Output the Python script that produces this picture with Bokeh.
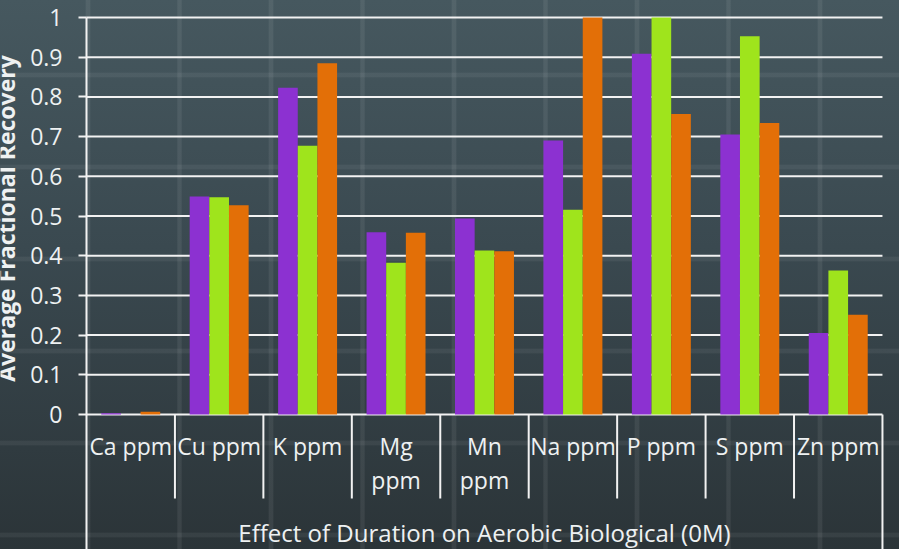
import math

from bokeh.plotting import figure
from bokeh.models import (ColumnDataSource, Range1d, FixedTicker, NumeralTickFormatter, Label,
                          LinearAxis)
from bokeh.transform import dodge
from bokeh.core.properties import value
from bokeh.embed import file_html
from bokeh.resources import INLINE

# ---- data -------------------------------------------------------------
elements = ["Ca ppm", "Cu ppm", "K ppm", "Mg ppm", "Mn ppm", "Na ppm", "P ppm", "S ppm", "Zn ppm"]
element_labels = ["Ca ppm", "Cu ppm", "K ppm", "Mg\nppm", "Mn\nppm", "Na ppm", "P ppm", "S ppm", "Zn ppm"]
duration_1 = [0.003, 0.549, 0.823, 0.459, 0.494, 0.690, 0.909, 0.705, 0.205]
duration_2 = [0.000, 0.547, 0.677, 0.382, 0.413, 0.516, 1.000, 0.953, 0.363]
duration_3 = [0.007, 0.527, 0.885, 0.458, 0.411, 1.000, 0.757, 0.734, 0.251]
y_ticks = [0, 0.1, 0.2, 0.3, 0.4, 0.5, 0.6, 0.7, 0.8, 0.9, 1]
x_title = "Effect of Duration on Aerobic Biological (0M)"
y_title = "Average Fractional Recovery"

series_colors = ["#8c31d1", "#9fe41c", "#e36f07"]
text_color = "#eef1f2"
rule_color = "#f2f2f2"
font = "Open Sans"

n = len(elements)
bar_w = 1 / 4.5            # three bars plus a 150% gap per category

# ---- geometry: the frame fills the canvas, value axis sits at x = 0 ----
W, H = 899, 549
right = 15
axis_px = 86                      # pixel column of the value axis
top_px = 17                       # pixel row of the value 1 gridline
px_per_unit_y = 397.0
px_per_unit_x = 88.44
y_end = 1 + top_px / px_per_unit_y
y_start = y_end - H / px_per_unit_y
x_start = -axis_px / px_per_unit_x
x_end = x_start + (W - right) / px_per_unit_x


def y_at(px):
    """Data y for a pixel row measured from the canvas top."""
    return y_end - px / px_per_unit_y


def x_at(px):
    """Data x for a pixel column measured from the canvas left."""
    return x_start + px / px_per_unit_x


p = figure(
    width=W, height=H,
    x_range=Range1d(x_start, x_end), y_range=Range1d(y_start, y_end),
    output_backend="svg", toolbar_location=None,
    x_axis_location=None, y_axis_location=None,
    min_border_left=0, min_border_right=right,
    min_border_top=0, min_border_bottom=0,
)
p.background_fill_alpha = 0
p.border_fill_alpha = 0
p.outline_line_color = None
p.xgrid.visible = False
p.ygrid.visible = False

# chalkboard backdrop with soft grid texture
p.styles = {
    "background": (
        "repeating-linear-gradient(90deg, rgba(255,255,255,0) 0px, rgba(255,255,255,0) 85px, "
        "rgba(255,255,255,0.07) 86.5px, rgba(255,255,255,0.07) 89.5px, rgba(255,255,255,0) 91px, "
        "rgba(255,255,255,0) 91.5px), "
        "repeating-linear-gradient(180deg, rgba(255,255,255,0) 0px, rgba(255,255,255,0) 72px, "
        "rgba(255,255,255,0.06) 73.5px, rgba(255,255,255,0.06) 76.5px, rgba(255,255,255,0) 78px, "
        "rgba(255,255,255,0) 92px), "
        "linear-gradient(180deg, #46585f 0%, #3a4950 45%, #2b3438 100%)"
    )
}

# ---- horizontal value gridlines (behind the bars) -----------------------
p.segment(x0=[0] * len(y_ticks), x1=[n] * len(y_ticks), y0=y_ticks, y1=y_ticks,
          line_color=rule_color, line_width=2, level="underlay")

# ---- bars -------------------------------------------------------------
src = ColumnDataSource(dict(
    pos=[i + 0.5 for i in range(n)],
    d1=duration_1, d2=duration_2, d3=duration_3,
))
for col, off, fill in zip(["d1", "d2", "d3"], [-bar_w, 0, bar_w], series_colors):
    p.vbar(x=dodge("pos", off, range=p.x_range), top=col, bottom=0, width=bar_w,
           source=src, fill_color=fill, line_color=None)

# ---- value axis ---------------------------------------------------------
ax = LinearAxis(fixed_location=0, bounds=(y_start, 1.0))
ax.ticker = FixedTicker(ticks=y_ticks)
ax.formatter = NumeralTickFormatter(format="0.[0]")
ax.axis_line_color = rule_color
ax.axis_line_width = 2
ax.major_tick_line_color = rule_color
ax.major_tick_line_width = 2
ax.major_tick_out = 8
ax.major_tick_in = 0
ax.minor_tick_line_color = None
ax.major_label_standoff = 16
ax.major_label_text_color = text_color
ax.major_label_text_font = font
ax.major_label_text_font_size = "23px"
p.add_layout(ax, "left")

# ---- category cells below the axis -------------------------------------
cell_bottom = y_at(498)
p.segment(x0=list(range(1, n)), y0=[0] * (n - 1), x1=list(range(1, n)), y1=[cell_bottom] * (n - 1),
          line_color=rule_color, line_width=2)
p.segment(x0=[n], y0=[0], x1=[n], y1=[y_start], line_color=rule_color, line_width=2)

lab_src = ColumnDataSource(dict(x=[i + 0.5 for i in range(n)], y=[y_at(429)] * n,
                                text=element_labels))
p.text(x="x", y="y", text="text", source=lab_src, text_align="center", text_baseline="top",
       text_color=text_color, text_font=value(font), text_font_size="23px", text_line_height=1.08)

p.add_layout(Label(x=n / 2, y=y_at(532), text=x_title, text_align="center",
                   text_baseline="alphabetic", text_color=text_color, text_font=font,
                   text_font_size="24px"))

# vertical value-axis title at the far left edge
p.add_layout(Label(x=x_at(5), y=y_at(218), text=y_title,
                   angle=math.pi / 2, text_align="center", text_baseline="alphabetic",
                   text_color=text_color, text_font=font, text_font_size="23px",
                   text_font_style="bold"))

open("out.html", "w").write(file_html(p, INLINE))
